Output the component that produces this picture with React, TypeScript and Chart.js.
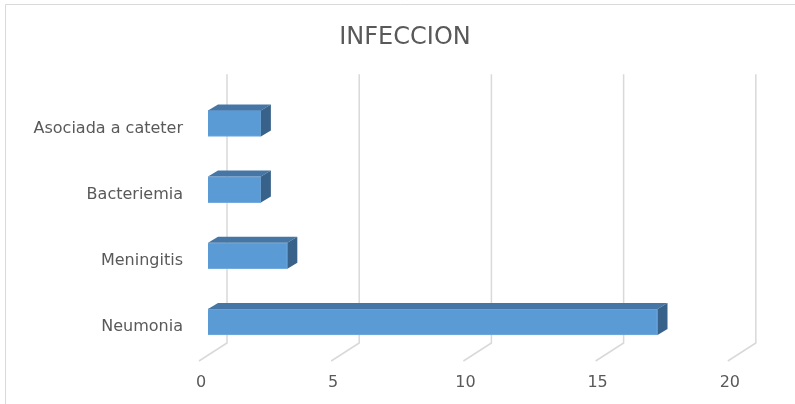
import React, { useEffect, useRef } from "react";
import { Chart, registerables } from "chart.js";

Chart.register(...registerables);

const categories = ["Asociada a cateter", "Bacteriemia", "Meningitis", "Neumonia"];
const values = [2, 2, 3, 17];
const xTickValues = [0, 5, 10, 15, 20];
const xAxisMax = 22.2; // leaves room for the 3D back wall to the right of 20
const titleText = "INFECCION";

const FONT = "'DejaVu Sans', 'Liberation Sans', sans-serif";
const TEXT = "#595959";
const GRID = "#d9d9d9";

const depthPlugin = {
  id: "depth3d",
  beforeDraw(chart: any) {
    const ctx = chart.ctx;
    ctx.save();
    ctx.fillStyle = "#ffffff";
    ctx.fillRect(0, 0, chart.width, chart.height);
    ctx.strokeStyle = GRID;
    ctx.lineWidth = 1;
    ctx.beginPath();
    ctx.moveTo(5.5, chart.height);
    ctx.lineTo(5.5, 4.5);
    ctx.lineTo(chart.width, 4.5);
    ctx.stroke();
    ctx.restore();
  },
  beforeDatasetsDraw(chart: any) {
    const ctx = chart.ctx;
    const xs = chart.scales.x;
    const area = chart.chartArea;
    const wallTop = area.top - 16;
    const wallBottom = area.bottom - 12;
    ctx.save();
    ctx.strokeStyle = GRID;
    ctx.lineWidth = 1.5;
    xTickValues.forEach((v) => {
      const px = xs.getPixelForValue(v);
      ctx.beginPath();
      ctx.moveTo(px + 19, wallTop);
      ctx.lineTo(px + 19, wallBottom);
      ctx.lineTo(px - 9, wallBottom + 18);
      ctx.stroke();
    });
    ctx.restore();
  },
  afterDatasetsDraw(chart: any) {
    const ctx = chart.ctx;
    const meta = chart.getDatasetMeta(0);
    const dx = 10;
    const dy = -6;
    ctx.save();
    meta.data.forEach((bar: any) => {
      const { x, y, base, height } = bar.getProps(["x", "y", "base", "height"], true);
      const top = y - height / 2;
      const bottom = y + height / 2;
      ctx.fillStyle = "#4676a5";
      ctx.beginPath();
      ctx.moveTo(base, top);
      ctx.lineTo(x, top);
      ctx.lineTo(x + dx, top + dy);
      ctx.lineTo(base + dx, top + dy);
      ctx.closePath();
      ctx.fill();
      ctx.fillStyle = "#386289";
      ctx.beginPath();
      ctx.moveTo(x, top);
      ctx.lineTo(x + dx, top + dy);
      ctx.lineTo(x + dx, bottom + dy);
      ctx.lineTo(x, bottom);
      ctx.closePath();
      ctx.fill();
    });
    ctx.restore();
  },
};

export default function App() {
  const ref = useRef<HTMLCanvasElement | null>(null);

  useEffect(() => {
    document.body.style.margin = "0";
    if (!ref.current) return;
    const chart = new Chart(ref.current, {
      type: "bar",
      data: {
        labels: categories,
        datasets: [
          {
            data: values,
            backgroundColor: "#5b9bd5",
            borderColor: "#74aadd",
            borderWidth: 1,
            barThickness: 26,
          },
        ],
      },
      options: {
        indexAxis: "y",
        animation: false,
        responsive: false,
        maintainAspectRatio: false,
        layout: { padding: { left: 15, right: 0, top: 0, bottom: 0 } },
        plugins: {
          legend: { display: false },
          tooltip: { enabled: false },
          title: {
            display: true,
            text: titleText,
            color: TEXT,
            font: { family: FONT, size: 24, weight: "normal" },
            padding: { top: 23, bottom: 38.5 },
          },
        },
        scales: {
          x: {
            min: 0,
            max: xAxisMax,
            grid: { display: false, drawTicks: false, tickLength: 0 },
            border: { display: false },
            afterBuildTicks: (scale: any) => {
              scale.ticks = xTickValues.map((v) => ({ value: v }));
            },
            ticks: {
              color: TEXT,
              font: { family: FONT, size: 16 },
              padding: 18,
              labelOffset: -7,
              maxRotation: 0,
            },
            afterFit: (scale: any) => {
              scale.height = 49;
            },
          },
          y: {
            grid: { display: false, drawTicks: false, tickLength: 0 },
            border: { display: false },
            ticks: {
              color: TEXT,
              font: { family: FONT, size: 16 },
              padding: 25,
              labelOffset: 5,
            },
            afterFit: (scale: any) => {
              scale.width = 193;
            },
          },
        },
      },
      plugins: [depthPlugin],
    } as any);
    return () => chart.destroy();
  }, []);

  return <canvas ref={ref} width={795} height={404} style={{ display: "block" }} />;
}
